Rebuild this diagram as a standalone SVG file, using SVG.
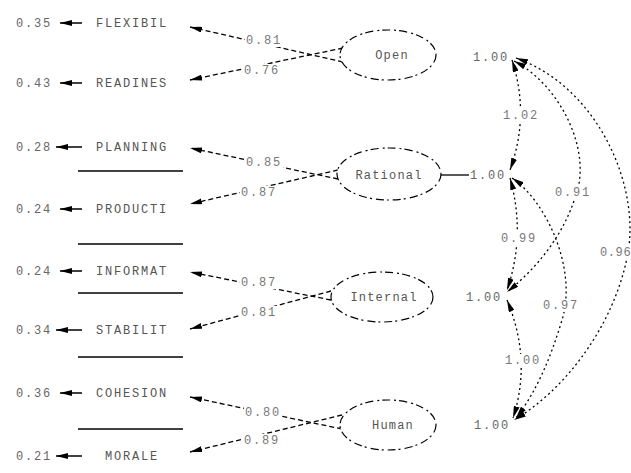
<svg xmlns="http://www.w3.org/2000/svg" width="631" height="473" viewBox="0 0 631 473">
<defs>
<marker id="ah" viewBox="0 0 12 6" refX="12" refY="3" markerWidth="12" markerHeight="6" markerUnits="userSpaceOnUse" orient="auto-start-reverse"><path d="M0,0 L12,3 L0,6 z" fill="#000"/></marker>
<style>
text{font-family:"Liberation Mono","DejaVu Sans Mono",monospace;font-size:12px;fill:#666;letter-spacing:1.8px}
.nm{text-anchor:middle;fill:#555}
.lb{text-anchor:middle;fill:#777}
.bg{fill:#fff}
.lat{text-anchor:middle;fill:#555;letter-spacing:1.2px}
.err{stroke:#000;stroke-width:1.5;fill:none}
.load{stroke:#000;stroke-width:1.3;stroke-dasharray:5,3;fill:none}
.cor{stroke:#000;stroke-width:1.3;stroke-dasharray:2,3;fill:none}
.ell{stroke:#000;stroke-width:1.2;stroke-dasharray:8,4,2,3;fill:#fff}
.sep{stroke:#000;stroke-width:1.3}
</style>
</defs>
<rect width="631" height="473" fill="#fff"/>
<g id="separators">
<line class="sep" x1="78" y1="171" x2="183" y2="171"/>
<line class="sep" x1="78" y1="244" x2="183" y2="244"/>
<line class="sep" x1="78" y1="293" x2="183" y2="293"/>
<line class="sep" x1="78" y1="357" x2="183" y2="357"/>
<line class="sep" x1="78" y1="429" x2="183" y2="429"/>
</g>
<g id="connectors">
<line class="err" x1="82" y1="23" x2="60" y2="23" marker-end="url(#ah)"/>
<line class="err" x1="82" y1="83" x2="60" y2="83" marker-end="url(#ah)"/>
<line class="err" x1="82" y1="147" x2="56" y2="147" marker-end="url(#ah)"/>
<line class="err" x1="82" y1="209" x2="60" y2="209" marker-end="url(#ah)"/>
<line class="err" x1="82" y1="271" x2="60" y2="271" marker-end="url(#ah)"/>
<line class="err" x1="82" y1="330" x2="56" y2="330" marker-end="url(#ah)"/>
<line class="err" x1="82" y1="393" x2="60" y2="393" marker-end="url(#ah)"/>
<line class="err" x1="82" y1="456" x2="56" y2="456" marker-end="url(#ah)"/>
<line class="load" x1="343" y1="62" x2="190" y2="27" marker-end="url(#ah)"/>
<line class="load" x1="343" y1="48" x2="190" y2="80" marker-end="url(#ah)"/>
<line class="load" x1="338" y1="179" x2="190" y2="148" marker-end="url(#ah)"/>
<line class="load" x1="338" y1="170" x2="190" y2="204" marker-end="url(#ah)"/>
<line class="load" x1="331" y1="300" x2="190" y2="272" marker-end="url(#ah)"/>
<line class="load" x1="331" y1="291" x2="190" y2="329" marker-end="url(#ah)"/>
<line class="load" x1="342" y1="429" x2="190" y2="397" marker-end="url(#ah)"/>
<line class="load" x1="342" y1="415" x2="190" y2="452" marker-end="url(#ah)"/>
<line stroke="#000" stroke-width="1.3" x1="441" y1="175" x2="469" y2="175"/>
<path class="cor" d="M512,60 Q530,115 510,170" marker-start="url(#ah)" marker-end="url(#ah)"/>
<path class="cor" d="M514,61 C560,85 592,150 576,195 C562,240 532,272 507,292" marker-start="url(#ah)" marker-end="url(#ah)"/>
<path class="cor" d="M516,58 C600,88 642,190 627,258 C612,330 562,392 514,420" marker-start="url(#ah)" marker-end="url(#ah)"/>
<path class="cor" d="M510,178 Q526,235 507,290" marker-start="url(#ah)" marker-end="url(#ah)"/>
<path class="cor" d="M512,178 C545,200 578,268 562,320 C550,360 536,392 516,418" marker-start="url(#ah)" marker-end="url(#ah)"/>
<path class="cor" d="M507,300 Q532,360 513,418" marker-start="url(#ah)" marker-end="url(#ah)"/>
<rect class="bg" x="245" y="34" width="38" height="13"/><text class="lb" x="264" y="44">0.81</text>
<rect class="bg" x="243" y="64" width="38" height="13"/><text class="lb" x="262" y="74">0.76</text>
<rect class="bg" x="245" y="156" width="38" height="13"/><text class="lb" x="264" y="166">0.85</text>
<rect class="bg" x="240" y="186" width="38" height="13"/><text class="lb" x="259" y="196">0.87</text>
<rect class="bg" x="240" y="276" width="38" height="13"/><text class="lb" x="259" y="286">0.87</text>
<rect class="bg" x="240" y="306" width="38" height="13"/><text class="lb" x="259" y="316">0.81</text>
<rect class="bg" x="244" y="406" width="38" height="13"/><text class="lb" x="263" y="416">0.80</text>
<rect class="bg" x="243" y="434" width="38" height="13"/><text class="lb" x="262" y="444">0.89</text>
<rect class="bg" x="502" y="109" width="38" height="13"/><text class="lb" x="521" y="119">1.02</text>
<rect class="bg" x="554" y="186" width="38" height="13"/><text class="lb" x="573" y="196">0.91</text>
<rect class="bg" x="500" y="232" width="38" height="13"/><text class="lb" x="519" y="242">0.99</text>
<rect class="bg" x="542" y="299" width="38" height="13"/><text class="lb" x="561" y="309">0.97</text>
<rect class="bg" x="504" y="354" width="38" height="13"/><text class="lb" x="523" y="364">1.00</text>
<rect class="bg" x="599" y="246" width="32" height="13"/><text x="600" y="256" style="fill:#777;letter-spacing:0.6px">0.96</text>
</g>
<g id="errors">
<text x="16" y="27">0.35</text>
<text x="16" y="87">0.43</text>
<text x="16" y="151">0.28</text>
<text x="16" y="213">0.24</text>
<text x="16" y="275">0.24</text>
<text x="16" y="334">0.34</text>
<text x="16" y="397">0.36</text>
<text x="16" y="460">0.21</text>
</g>
<g id="FLEXIBIL"><text class="nm" x="132" y="27">FLEXIBIL</text></g>
<g id="READINES"><text class="nm" x="132" y="87">READINES</text></g>
<g id="PLANNING"><text class="nm" x="132" y="151">PLANNING</text></g>
<g id="PRODUCTI"><text class="nm" x="132" y="213">PRODUCTI</text></g>
<g id="INFORMAT"><text class="nm" x="132" y="275">INFORMAT</text></g>
<g id="STABILIT"><text class="nm" x="132" y="334">STABILIT</text></g>
<g id="COHESION"><text class="nm" x="132" y="397">COHESION</text></g>
<g id="MORALE"><text class="nm" x="132" y="460">MORALE</text></g>
<g id="Open"><ellipse class="ell" cx="388" cy="55" rx="48" ry="25"/><text class="lat" x="392" y="59">Open</text><text x="473" y="61">1.00</text></g>
<g id="Rational"><ellipse class="ell" cx="389" cy="174" rx="52" ry="26"/><text class="lat" x="389" y="179">Rational</text><text x="470" y="179">1.00</text></g>
<g id="Internal"><ellipse class="ell" cx="382" cy="297" rx="51" ry="25"/><text class="lat" x="384" y="301">Internal</text><text x="466" y="301">1.00</text></g>
<g id="Human"><ellipse class="ell" cx="388" cy="425" rx="48" ry="25"/><text class="lat" x="393" y="429">Human</text><text x="474" y="429">1.00</text></g>
</svg>
